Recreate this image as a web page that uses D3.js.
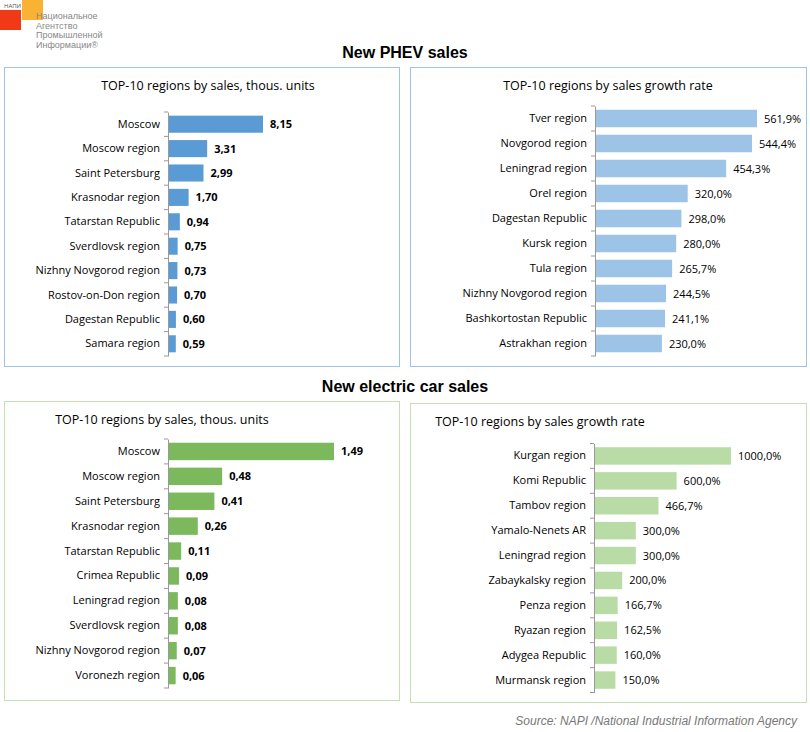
<!DOCTYPE html>
<html><head><meta charset="utf-8">
<script src="https://cdn.jsdelivr.net/npm/d3@7"></script>
<style>body{margin:0;background:#fff;font-family:"Open Sans",sans-serif}</style>
</head><body><svg id="c" width="810" height="732"></svg>
<script>
var phevRegions = ['Moscow','Moscow region','Saint Petersburg','Krasnodar region','Tatarstan Republic','Sverdlovsk region','Nizhny Novgorod region','Rostov-on-Don region','Dagestan Republic','Samara region'];
var phevSales = [8.15,3.31,2.99,1.70,0.94,0.75,0.73,0.70,0.60,0.59];
var phevGrowthRegions = ['Tver region','Novgorod region','Leningrad region','Orel region','Dagestan Republic','Kursk region','Tula region','Nizhny Novgorod region','Bashkortostan Republic','Astrakhan region'];
var phevGrowth = [561.9,544.4,454.3,320.0,298.0,280.0,265.7,244.5,241.1,230.0];
var evRegions = ['Moscow','Moscow region','Saint Petersburg','Krasnodar region','Tatarstan Republic','Crimea Republic','Leningrad region','Sverdlovsk region','Nizhny Novgorod region','Voronezh region'];
var evSales = [1.49,0.48,0.41,0.26,0.11,0.09,0.08,0.08,0.07,0.06];
var evGrowthRegions = ['Kurgan region','Komi Republic','Tambov region','Yamalo-Nenets AR','Leningrad region','Zabaykalsky region','Penza region','Ryazan region','Adygea Republic','Murmansk region'];
var evGrowth = [1000.0,600.0,466.7,300.0,300.0,200.0,166.7,162.5,160.0,150.0];

var svg = d3.select('#c');
var fmt = function(v, dec){ return v.toFixed(dec).replace('.', ','); };

// logo
svg.append('rect').attr('x',0).attr('y',10).attr('width',21).attr('height',20).attr('fill','#f03a17');
svg.append('rect').attr('x',22).attr('y',0).attr('width',21).attr('height',20).attr('fill','#f9b233');
svg.append('text').attr('x',4).attr('y',8).attr('font-size',6).attr('fill','#555').text('НАПИ');
['Национальное','Агентство','Промышленной','Информации®'].forEach(function(t,i){
  svg.append('text').attr('x',36).attr('y',19+i*9.5).attr('font-size',9).attr('fill','#888')
    .attr('font-family','Liberation Sans Narrow, Liberation Sans, sans-serif').text(t);
});

svg.append('text').attr('x',405).attr('y',58).attr('text-anchor','middle').attr('font-size',16).attr('font-weight','bold').attr('font-family','Liberation Sans, Arial').text('New PHEV sales');
svg.append('text').attr('x',405).attr('y',392).attr('text-anchor','middle').attr('font-size',16).attr('font-weight','bold').attr('font-family','Liberation Sans, Arial').text('New electric car sales');
svg.append('text').attr('x',797).attr('y',725).attr('text-anchor','end').attr('font-size',12).attr('font-style','italic').attr('fill','#777').attr('font-family','Liberation Sans, Arial').text('Source: NAPI /National Industrial Information Agency');

function panel(o){
  var g = svg.append('g');
  g.append('rect').attr('x',o.x).attr('y',o.y).attr('width',o.w).attr('height',o.h).attr('fill','#fff').attr('stroke',o.border);
  g.append('text').attr('x',o.tx).attr('y',o.y+22).attr('text-anchor','middle').attr('font-size',12.5).text(o.title);
  var y = d3.scaleBand().domain(o.cats).range([o.top, o.top+o.step*10]).paddingInner(0.3).paddingOuter(0.15);
  var x = d3.scaleLinear().domain([0, o.max]).range([o.ax, o.ax2]);
  g.selectAll('rect.b').data(o.vals).enter().append('rect').attr('class','b')
    .attr('x', x(0)+1).attr('y', function(d,i){ return y(o.cats[i]); })
    .attr('width', function(d){ return x(d)-x(0); }).attr('height', y.bandwidth()).attr('fill', o.color);
  g.selectAll('text.v').data(o.vals).enter().append('text').attr('class','v')
    .attr('x', function(d){ return x(d)+8; }).attr('y', function(d,i){ return y(o.cats[i])+y.bandwidth()/2+4; })
    .attr('font-size',11).attr('font-weight', o.bold?'bold':'normal')
    .text(function(d){ return o.fmt(d); });
  var axis = d3.axisLeft(y).tickSize(0).tickPadding(8);
  var ag = g.append('g').attr('transform','translate('+x(0)+',0)').call(axis);
  ag.select('.domain').attr('stroke','#999');
  ag.selectAll('text').attr('font-size',11).attr('font-family','Open Sans, sans-serif').attr('fill','#000');
  g.selectAll('line.t').data(d3.range(11)).enter().append('line').attr('class','t')
    .attr('x1', x(0)-4).attr('x2', x(0)).attr('stroke','#999')
    .attr('y1', function(i){ return o.top+o.step*i; }).attr('y2', function(i){ return o.top+o.step*i; });
}

panel({x:4.5,y:67.5,w:395,h:299,border:'#9dc3e6',title:'TOP-10 regions by sales, thous. units',tx:208,
  cats:phevRegions,vals:phevSales,max:8.15,ax:168,ax2:262,top:112,step:24.4,color:'#5b9bd5',bold:true,fmt:function(d){return fmt(d,2);}});
panel({x:410.5,y:67.5,w:396,h:299,border:'#9dc3e6',title:'TOP-10 regions by sales growth rate',tx:608,
  cats:phevGrowthRegions,vals:phevGrowth,max:561.9,ax:595,ax2:756,top:106,step:25,color:'#9dc3e6',bold:false,fmt:function(d){return fmt(d,1)+'%';}});
panel({x:4.5,y:401.5,w:395,h:299,border:'#c5e0b4',title:'TOP-10 regions by sales, thous. units',tx:162,
  cats:evRegions,vals:evSales,max:1.49,ax:168,ax2:333,top:439,step:24.9,color:'#7cb95c',bold:true,fmt:function(d){return fmt(d,2);}});
panel({x:410.5,y:403.5,w:396,h:299,border:'#c5e0b4',title:'TOP-10 regions by sales growth rate',tx:540,
  cats:evGrowthRegions,vals:evGrowth,max:1000,ax:594,ax2:730,top:443.5,step:24.9,color:'#b9dba5',bold:false,fmt:function(d){return fmt(d,1)+'%';}});
</script></body></html>
